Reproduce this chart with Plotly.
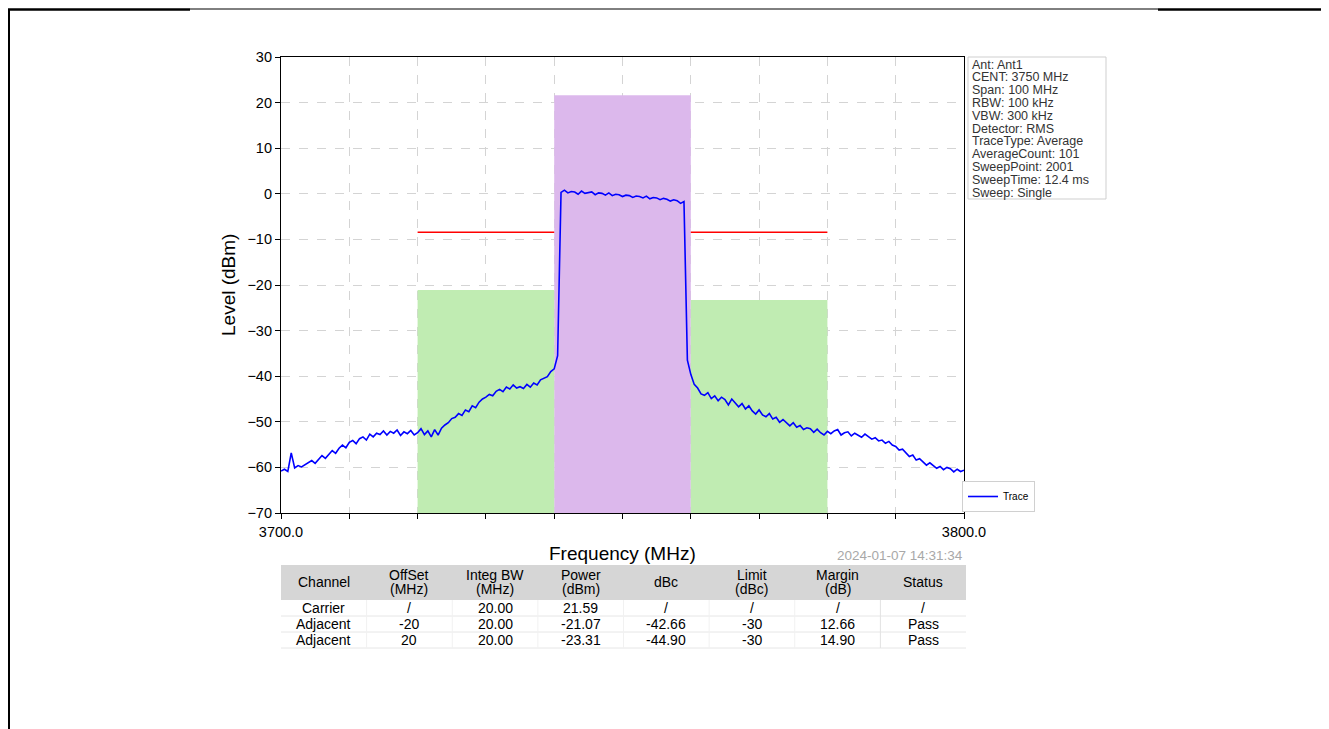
import plotly.graph_objects as go

W, H = 1329, 729
OFF = 8  # the page puts the figure 8 px in from the corner
FONT = "Liberation Sans, Arial, sans-serif"

# sweep trace, every 0.5 MHz from 3700 to 3800 MHz
freq_start = 3700.0
freq_step = 0.5
trace_level = [
    # 3700 - 3723.5
    -60.8, -60.4, -60.9, -56.8, -60.1, -59.6, -59.9, -59.4, -59.0, -58.5,
    -59.1, -58.2, -57.4, -58.0, -57.1, -56.3, -56.9, -55.8, -55.1, -55.7,
    -54.5, -54.1, -54.8, -53.7, -53.3, -54.0, -52.7, -53.3, -52.5, -52.8,
    -52.0, -52.9, -52.1, -52.5, -51.8, -53.0, -52.2, -52.6, -51.9, -52.9,
    -52.4, -51.5, -52.8, -52.0, -53.3, -51.7, -52.9, -51.4,
    # 3724 - 3740
    -50.7, -50.2, -49.3, -49.0, -48.2, -48.6, -47.4, -47.8, -46.5, -46.9,
    -45.7, -45.0, -44.6, -44.0, -44.3, -43.3, -42.9, -43.4, -42.4, -42.8,
    -41.9, -42.6, -42.3, -42.7, -41.8, -42.4, -41.5, -41.9, -40.8, -40.4,
    -40.1, -39.0, -38.4,
    # 3740.5
    -35.5,
    # 3741 - 3759
    0.3, 0.8, 0.2, 0.5, 0.4, -0.1, 0.6, 0.1, 0.3, 0.4,
    -0.2, 0.2, 0.1, -0.3, 0.2, -0.4, -0.1, -0.2, -0.6, -0.3,
    -0.4, -0.8, -0.5, -0.6, -0.9, -0.5, -1.1, -0.8, -0.9, -1.3,
    -1.0, -1.2, -1.6, -1.3, -1.5, -2.1, -1.7,
    # 3759.5
    -36.5,
    # 3760 - 3780
    -39.6, -41.8, -42.6, -43.9, -44.2, -43.6, -44.9, -44.3, -45.4, -44.6,
    -45.1, -46.3, -45.0, -45.9, -46.7, -46.0, -47.2, -46.5, -47.6, -48.3,
    -47.4, -48.5, -48.9, -48.2, -49.4, -49.0, -50.1, -49.5, -50.3, -50.9,
    -50.2, -51.2, -50.8, -51.7, -51.3, -51.5, -52.3, -51.6, -52.4, -52.9,
    -52.1,
    # 3780.5 - 3800
    -52.6, -52.0, -51.7, -52.9, -52.4, -52.2, -53.1, -52.5, -53.0,
    -53.4, -52.7, -53.3, -53.8, -53.5, -54.2, -54.0, -54.7, -54.3, -55.1,
    -55.4, -56.2, -56.0, -56.9, -57.6, -57.3, -58.4, -58.1, -58.7, -59.5,
    -59.0, -59.6, -60.2, -59.8, -60.5, -60.0, -60.3, -61.0, -60.4, -60.9,
    -60.6,
]
freq = [freq_start + i * freq_step for i in range(len(trace_level))]

# ACLR table
center_freq = 3750
channel_names = ["Carrier", "Adjacent", "Adjacent"]
channel_offset = [0, -20, 20]
offset_text = ["/", "-20", "20"]
integ_bw = ["20.00", "20.00", "20.00"]
power_dbm = [21.59, -21.07, -23.31]
dbc_text = ["/", "-42.66", "-44.90"]
limit_dbc = ["/", "-30", "-30"]
margin_db = ["/", "12.66", "14.90"]
status = ["/", "Pass", "Pass"]
header = [["Channel"], ["OffSet", "(MHz)"], ["Integ BW", "(MHz)"], ["Power", "(dBm)"],
          ["dBc"], ["Limit", "(dBc)"], ["Margin", "(dB)"], ["Status"]]
adj_limit = -30

info_lines = ["Ant: Ant1", "CENT: 3750 MHz", "Span: 100 MHz", "RBW: 100 kHz",
              "VBW: 300 kHz", "Detector: RMS", "TraceType: Average",
              "AverageCount: 101", "SweepPoint: 2001", "SweepTime: 12.4 ms",
              "Sweep: Single"]
timestamp = "2024-01-07 14:31:34"

y_min, y_max = -70, 30


def px(x):
    return (x - OFF) / W


def py(y):
    return 1 - (y - OFF) / H


def label(text, x, y, size, color="black", xanchor="center", angle=0):
    return dict(text=text, x=px(x), y=py(y), xref="paper", yref="paper",
                xanchor=xanchor, yanchor="middle", showarrow=False, borderpad=0,
                textangle=angle, font=dict(family=FONT, size=size, color=color))


# plot area in page pixels
L, R, T, B = 281, 964, 57, 513

fig = go.Figure()

bar_colors = ["#dcb8ec", "#c0ecb2", "#c0ecb2"]
fig.add_trace(go.Bar(
    x=[center_freq + o for o in channel_offset],
    y=[p - y_min for p in power_dbm], base=y_min, width=20,
    marker_color=bar_colors, marker_line_width=0, showlegend=False,
    hoverinfo="skip"))

lim = power_dbm[0] + adj_limit
lx, ly = [], []
for o in channel_offset[1:]:
    c = center_freq + o
    lx += [c - 10, c + 10, None]
    ly += [lim, lim, None]
fig.add_trace(go.Scatter(x=lx, y=ly, mode="lines", line=dict(color="red", width=1.5),
                         showlegend=False, hoverinfo="skip"))

fig.add_trace(go.Scatter(x=freq, y=trace_level, mode="lines", name="Trace",
                         line=dict(color="#0000ff", width=1.6)))

axis_common = dict(showline=True, mirror=True, linecolor="black", linewidth=1.2,
                   ticks="outside", ticklen=5, tickwidth=1.2, tickcolor="black",
                   showgrid=True, gridcolor="#d4d4d4", griddash="dash", gridwidth=1,
                   zeroline=False, automargin=False,
                   tickfont=dict(family=FONT, size=14.5, color="black"))

xticks = list(range(3700, 3801, 10))
fig.update_xaxes(range=[3700, 3800], domain=[px(L), px(R)], tickvals=xticks,
                 ticktext=["3700.0"] + [""] * 9 + ["3800.0"], **axis_common)
fig.update_yaxes(range=[y_min, y_max], domain=[py(B), py(T)], dtick=10,
                 **axis_common)

ann = []
shapes = []

ann.append(label("Frequency (MHz)", (L + R) / 2, 553, 19))
ann.append(label("Level (dBm)", 228, (T + B) / 2, 19, angle=-90))
ann.append(label(timestamp, R, 555, 13.5, color="#a8a8a8", xanchor="right"))

# info box
shapes.append(dict(type="rect", xref="paper", yref="paper", x0=px(968), x1=px(1106),
                   y0=py(57), y1=py(199), line=dict(color="#cfcfcf", width=1),
                   fillcolor="white"))
for i, t in enumerate(info_lines):
    ann.append(label(t, 971, 64.5 + i * 12.8, 12.5, color="#333333", xanchor="left"))

# table
tl, tr = 281, 966
ncol = len(header)
cw = (tr - tl) / ncol
shapes.append(dict(type="rect", xref="paper", yref="paper", x0=px(tl), x1=px(tr),
                   y0=py(600), y1=py(565), line=dict(width=0), fillcolor="#d6d6d6"))
for yy in [616, 632, 648]:
    shapes.append(dict(type="line", xref="paper", yref="paper", x0=px(tl), x1=px(tr),
                       y0=py(yy), y1=py(yy), line=dict(color="#e6e6e6", width=1)))
for k in range(1, ncol):
    xx = tl + k * cw
    shapes.append(dict(type="line", xref="paper", yref="paper", x0=px(xx), x1=px(xx),
                       y0=py(600), y1=py(648),
                       line=dict(color="#e2e2e2" if k == ncol - 1 else "#f1f1f1", width=1)))
for c, h in enumerate(header):
    xc = tl + (c + 0.5) * cw
    ys = [582] if len(h) == 1 else [575, 589]
    for t, yy in zip(h, ys):
        ann.append(label(t, xc, yy, 14))
rows = list(zip(channel_names, offset_text, integ_bw, [f"{p:.2f}" for p in power_dbm],
                dbc_text, limit_dbc, margin_db, status))
for r, row in enumerate(rows):
    for c, t in enumerate(row):
        ann.append(label(t, tl + (c + 0.5) * cw, 607.5 + r * 16, 14))

# page frame
shapes.append(dict(type="line", xref="paper", yref="paper", x0=px(9), x1=px(9),
                   y0=py(9), y1=py(729), line=dict(color="black", width=2)))
shapes.append(dict(type="line", xref="paper", yref="paper", x0=px(8), x1=px(190),
                   y0=py(9.5), y1=py(9.5), line=dict(color="black", width=2.5)))
shapes.append(dict(type="line", xref="paper", yref="paper", x0=px(190), x1=px(1158),
                   y0=py(9), y1=py(9), line=dict(color="black", width=1)))
shapes.append(dict(type="line", xref="paper", yref="paper", x0=px(1158), x1=px(1322),
                   y0=py(9.5), y1=py(9.5), line=dict(color="black", width=2.5)))

fig.update_layout(
    width=W, height=H, margin=dict(l=0, r=0, t=0, b=0, autoexpand=False),
    paper_bgcolor="white", plot_bgcolor="white",
    font=dict(family=FONT, color="black"),
    annotations=ann, shapes=shapes,
    legend=dict(x=px(962), y=py(512), xanchor="left", yanchor="bottom",
                bgcolor="white", bordercolor="#d0d0d0", borderwidth=1,
                font=dict(family=FONT, size=10, color="black"), itemwidth=30,
                tracegroupgap=0),
    showlegend=True,
)

fig.write_html("out.html")
